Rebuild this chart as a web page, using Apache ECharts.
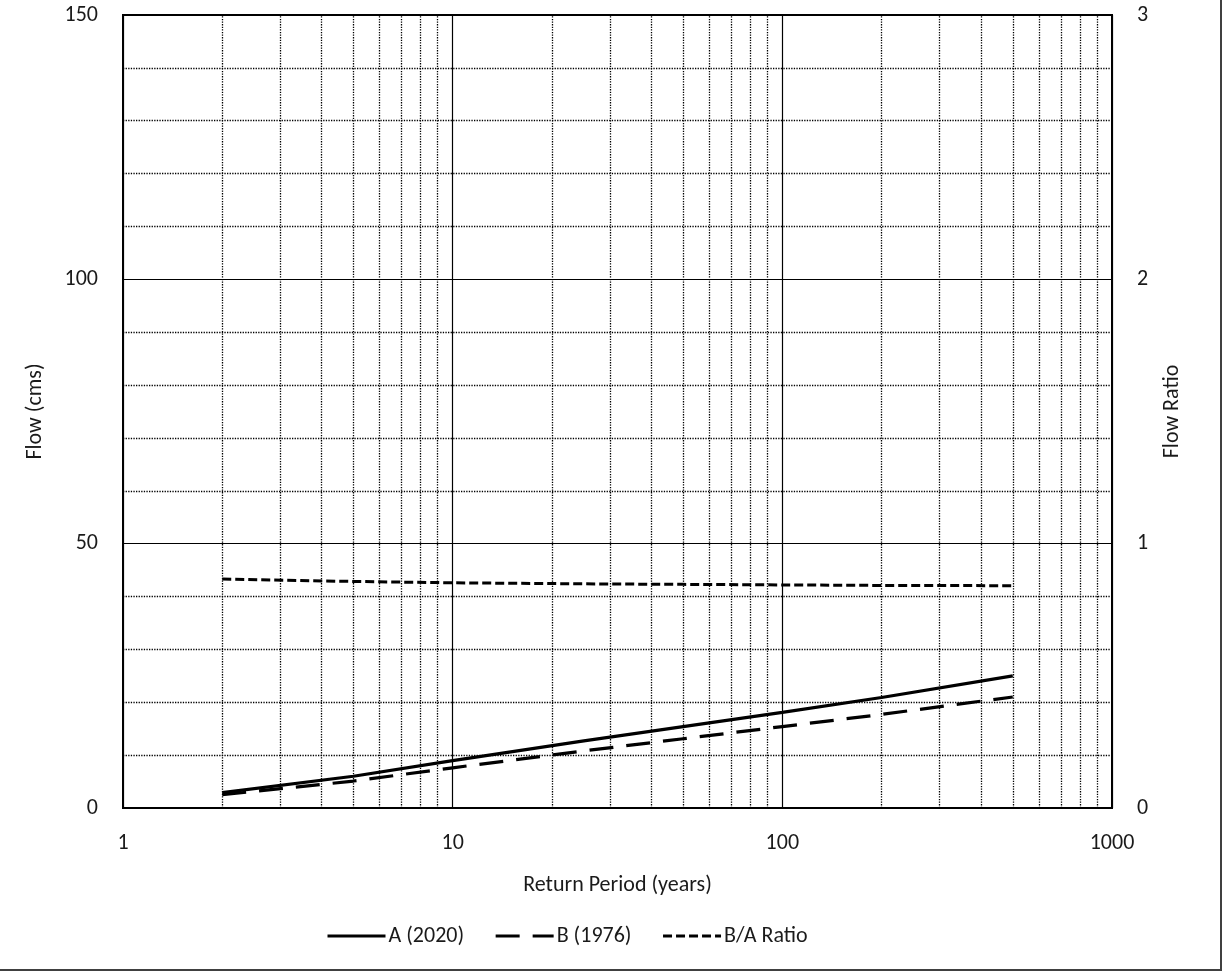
<!DOCTYPE html>
<html>
<head>
<meta charset="utf-8">
<script src="https://cdn.jsdelivr.net/npm/echarts@6/dist/echarts.min.js"></script>
<style>
  html, body { margin: 0; padding: 0; background: #fff; }
  #chart { width: 1225px; height: 973px; }
</style>
</head>
<body>
<div id="chart"></div>
<script>
// ---- data ----
const returnPeriods = [2, 5, 10, 25, 50, 100, 200, 500];
const flowA2020 = [2.9, 6.0, 8.95, 12.7, 15.4, 18.1, 20.9, 25.0];
const flowB1976 = [2.5, 5.1, 7.6, 10.8, 13.1, 15.4, 17.7, 21.0];
const ratioBA = [0.866, 0.857, 0.852, 0.848, 0.846, 0.844, 0.842, 0.841];
const minorXGrid = [2, 3, 4, 5, 6, 7, 8, 9, 20, 30, 40, 50, 60, 70, 80, 90, 200, 300, 400, 500, 600, 700, 800, 900];
const seriesNames = ['A (2020)', 'B (1976)', 'B/A Ratio'];

const FONT = 'Carlito, Lato, "Open Sans", sans-serif';
const TXT = '#1a1a1a';
const FS = 22;

const pairs = (xs, ys) => xs.map((x, i) => [x, ys[i]]);

const chart = echarts.init(document.getElementById('chart'), null, { renderer: 'canvas' });
chart.setOption({
  animation: false,
  backgroundColor: '#fff',
  textStyle: { fontFamily: FONT, color: TXT },
  graphic: [{
    type: 'rect',
    shape: { x: -1, y: -1, width: 1222, height: 971 },
    style: { fill: 'none', stroke: '#404040', lineWidth: 2 },
    silent: true, z: 100
  }],
  grid: {
    left: 123, right: 113, top: 15, bottom: 165,
    show: true, borderColor: '#000', borderWidth: 2, backgroundColor: 'transparent',
    containLabel: false
  },
  legend: {
    data: seriesNames,
    left: 321, top: 920,
    itemWidth: 58, itemHeight: 6, itemGap: 30,
    itemStyle: { opacity: 0 },
    lineStyle: { width: 3 },
    textStyle: { fontFamily: FONT, fontSize: FS, color: TXT, padding: [0, 0, 0, -2] }
  },
  xAxis: {
    type: 'log', logBase: 10, min: 1, max: 1000,
    name: 'Return Period (years)', nameLocation: 'middle', nameGap: 66,
    nameTextStyle: { fontFamily: FONT, fontSize: FS, color: TXT },
    axisLine: { show: true, lineStyle: { color: '#000', width: 2 } },
    axisTick: { show: false },
    axisLabel: { fontFamily: FONT, fontSize: FS, color: TXT, margin: 24, formatter: v => String(v) },
    splitLine: { show: true, lineStyle: { color: '#000', width: 1.2, type: 'solid' } },
    minorTick: { show: false },
    minorSplitLine: { show: false }
  },
  yAxis: [{
    type: 'value', min: 0, max: 150, interval: 50,
    name: 'Flow (cms)', nameLocation: 'middle', nameGap: 77, nameRotate: 90,
    nameTextStyle: { fontFamily: FONT, fontSize: FS, color: TXT },
    axisLine: { show: true, lineStyle: { color: '#000', width: 2 } },
    axisTick: { show: false },
    axisLabel: { fontFamily: FONT, fontSize: FS, color: TXT, margin: 25 },
    splitLine: { show: true, lineStyle: { color: '#000', width: 1.2, type: 'solid' } },
    minorTick: { show: false, splitNumber: 5 },
    minorSplitLine: { show: true, lineStyle: { color: '#000', width: 1.3, type: [1.3, 1.3] } }
  }, {
    type: 'value', min: 0, max: 3, interval: 1, position: 'right',
    name: 'Flow Ratio', nameLocation: 'middle', nameGap: 49, nameRotate: 90,
    nameTextStyle: { fontFamily: FONT, fontSize: FS, color: TXT },
    axisLine: { show: true, lineStyle: { color: '#000', width: 2 } },
    axisTick: { show: false },
    axisLabel: { fontFamily: FONT, fontSize: FS, color: TXT, margin: 25 },
    splitLine: { show: false }
  }],
  series: [
    {
      name: 'grid-minor-x', type: 'line', data: pairs(returnPeriods, flowA2020),
      symbol: 'none', lineStyle: { opacity: 0 }, silent: true, z: 1,
      markLine: {
        silent: true, symbol: 'none', label: { show: false },
        lineStyle: { color: '#000', width: 1.3, type: [1.3, 1.3] },
        data: minorXGrid.map(v => ({ xAxis: v }))
      }
    },
    {
      name: seriesNames[0], type: 'line', yAxisIndex: 0,
      data: pairs(returnPeriods, flowA2020),
      symbol: 'none', z: 5,
      itemStyle: { color: '#000' },
      lineStyle: { color: '#000', width: 3.2, type: 'solid' }
    },
    {
      name: seriesNames[1], type: 'line', yAxisIndex: 0,
      data: pairs(returnPeriods, flowB1976),
      symbol: 'none', z: 5,
      itemStyle: { color: '#000' },
      lineStyle: { color: '#000', width: 3.2, type: [24, 13] }
    },
    {
      name: seriesNames[2], type: 'line', yAxisIndex: 1,
      data: pairs(returnPeriods, ratioBA),
      symbol: 'none', z: 5,
      itemStyle: { color: '#000' },
      lineStyle: { color: '#000', width: 3, type: [9, 4] }
    }
  ]
});
</script>
</body>
</html>
